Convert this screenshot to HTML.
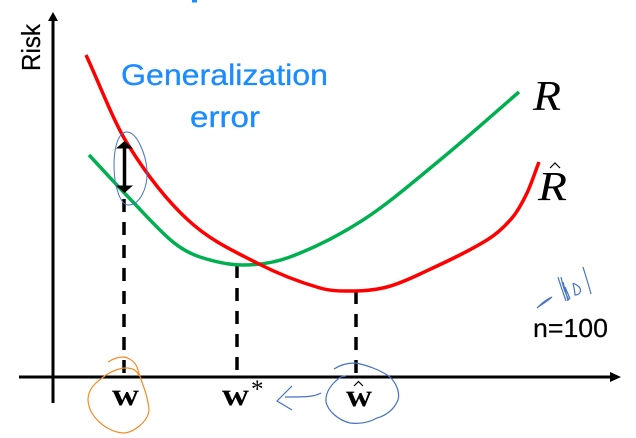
<!DOCTYPE html>
<html>
<head>
<meta charset="utf-8">
<style>
html,body{margin:0;padding:0;background:#fff;}
svg{display:block;}
</style>
</head>
<body>
<svg id="chart" width="636" height="438" viewBox="0 0 636 438" xmlns="http://www.w3.org/2000/svg">
  <rect x="192" y="0" width="5" height="2.5" fill="#1a8cff"/>

  <g id="axes">
    <line x1="53" y1="403" x2="53" y2="20" stroke="#000" stroke-width="3"/>
    <polygon points="53,12 48,21 58,21" fill="#000"/>
    <line x1="19" y1="377" x2="612" y2="377" stroke="#000" stroke-width="3"/>
    <polygon points="621,377 610,372 610,382" fill="#000"/>
  </g>

  <g id="dropGroup"></g>
  <g id="seriesGroup"></g>

  <text transform="translate(40,71) rotate(-90)" font-family="Liberation Sans, sans-serif" font-size="26" textLength="47" lengthAdjust="spacingAndGlyphs" fill="#000" stroke="#000" stroke-width="0.2">Risk</text>

  <text x="121" y="85" font-family="Liberation Sans, sans-serif" font-size="30" textLength="207" lengthAdjust="spacingAndGlyphs" fill="#1a8cff" stroke="#1a8cff" stroke-width="0.3">Generalization</text>
  <text x="190" y="127" font-family="Liberation Sans, sans-serif" font-size="30" textLength="70" lengthAdjust="spacingAndGlyphs" fill="#1a8cff" stroke="#1a8cff" stroke-width="0.3">error</text>

  <text x="533" y="110" font-family="Liberation Serif, serif" font-style="italic" font-size="42" textLength="28" lengthAdjust="spacingAndGlyphs" fill="#000">R</text>
  <text x="538" y="200" font-family="Liberation Serif, serif" font-style="italic" font-size="41" textLength="29" lengthAdjust="spacingAndGlyphs" fill="#000">R</text>
  <path d="M550 168 L555 163 L560 168" fill="none" stroke="#000" stroke-width="1.200"/>

  <g>
    <line x1="124.500" y1="146" x2="124.500" y2="188" stroke="#000" stroke-width="3.500"/>
    <polygon points="124.500,141 116,148.500 133,148.500" fill="#000"/>
    <polygon points="124.500,193 116,185.500 133,185.500" fill="#000"/>
  </g>

  <path d="M127 132 C118 132 114 148 114 165 C114 188 121 205 128 205 C140 205 148 188 147 170 C146 155 137 132 127 132 Z" fill="none" stroke="#4472c4" stroke-width="1"/>

  <path d="M108 362 C114 358 120 357 124 357 C131 358 136 363 138 370 C141 381 148 395 149 410 C148 422 133 433 123 433 C108 432 89 418 88 400 C88 386 100 380 106 375 C112 371 120 368 126 368 C132 368 137 370 139 376" fill="none" stroke="#f28c28" stroke-width="1.200"/>

  <path d="M334 369 C340 365 347 363 355 363 C368 365 382 371 390 377 C397 384 400 393 398 400 C394 410 385 416 377 418 C368 423 358 424 350 423 C338 420 328 411 326 402 C325 392 332 384 337 380 C340 377 342 376 346 376" fill="none" stroke="#4472c4" stroke-width="1.200"/>

  <path d="M321 393 C314 397 305 397 285 397 M292 386 L277 401 L292 410" fill="none" stroke="#4472c4" stroke-width="1.200"/>

  <text x="112" y="405" font-family="Liberation Serif, serif" font-weight="bold" font-size="32" textLength="27" lengthAdjust="spacingAndGlyphs" fill="#000">w</text>
  <text x="222" y="405" font-family="Liberation Serif, serif" font-weight="bold" font-size="32" textLength="27" lengthAdjust="spacingAndGlyphs" fill="#000">w</text>
  <text x="251" y="397" font-family="Liberation Serif, serif" font-size="25" fill="#000">*</text>
  <text x="346" y="406" font-family="Liberation Serif, serif" font-weight="bold" font-size="32" textLength="26" lengthAdjust="spacingAndGlyphs" fill="#000">w</text>
  <path d="M354 386 L358.500 381.500 L363 386" fill="none" stroke="#000" stroke-width="1.200"/>

  <text x="533" y="337" font-family="Liberation Sans, sans-serif" font-size="26" textLength="75" lengthAdjust="spacingAndGlyphs" fill="#000" stroke="#000" stroke-width="0.2">n=100</text>
  <path d="M537 308 C542 304 548 301 552 297 C547 299 542 303 538 307 M558 277 C561 287 564 295 566 301 M561 277 C563 287 566 295 569 300 M563 282 C565 290 567 296 568 301 M565 287 C567 292 569 296 570 299 M573 283 C574 288 575 292 575 295 C581 295 582 289 578 286 C576 284 574 284 573 283 M583 267 C586 277 589 286 591 294" fill="none" stroke="#4472c4" stroke-width="1.200"/>

  <script>
    // Risk values. x = distance along the parameter axis, y = risk above the axis.
    var redParams = [33, 74, 135, 204, 267, 302, 334, 367, 434, 459, 474, 486];
    var redRisk = [322, 234, 157, 114, 89, 86, 90, 103, 137, 159, 184, 215];
    var greenParams = [36, 80, 120, 147, 190, 237, 310, 387, 466];
    var greenRisk = [222, 175, 135, 120, 112, 120, 157, 217, 285];
    var dropParams = [71, 184, 303];
    var dropRisk = [178, 112, 86];

    var originX = 53;
    var originY = 377;
    function xScale(v) { return originX + v; }
    function yScale(v) { return originY - v; }

    // Hermite spline with slopes from neighbouring points, safe for unevenly spaced values.
    function smoothPath(xs, ys) {
      var n = xs.length;
      var slope = xs.map(function (x, i) {
        var a = Math.max(i - 1, 0);
        var b = Math.min(i + 1, n - 1);
        return (ys[b] - ys[a]) / (xs[b] - xs[a]);
      });
      var d = 'M' + xScale(xs[0]) + ' ' + yScale(ys[0]);
      for (var i = 0; i < n - 1; i++) {
        var h = (xs[i + 1] - xs[i]) / 3;
        d += ' C' + xScale(xs[i] + h) + ' ' + yScale(ys[i] + slope[i] * h) +
             ' ' + xScale(xs[i + 1] - h) + ' ' + yScale(ys[i + 1] - slope[i + 1] * h) +
             ' ' + xScale(xs[i + 1]) + ' ' + yScale(ys[i + 1]);
      }
      return d;
    }

    var svgNS = 'http://www.w3.org/2000/svg';
    var seriesGroup = document.getElementById('seriesGroup');
    var dropGroup = document.getElementById('dropGroup');

    var greenLine = document.createElementNS(svgNS, 'path');
    
    
    greenLine.setAttribute('d', smoothPath(greenParams, greenRisk));
    greenLine.setAttribute('fill', 'none');
    greenLine.setAttribute('stroke', '#00b050');
    greenLine.setAttribute('stroke-width', '3.5');
    seriesGroup.appendChild(greenLine);

    var redLine = document.createElementNS(svgNS, 'path');
    
    
    redLine.setAttribute('d', smoothPath(redParams, redRisk));
    redLine.setAttribute('fill', 'none');
    redLine.setAttribute('stroke', '#ff0000');
    redLine.setAttribute('stroke-width', '3.5');
    seriesGroup.appendChild(redLine);

    dropParams.forEach(function (v, i) {
      var drop = document.createElementNS(svgNS, 'line');
      
      
      drop.setAttribute('x1', xScale(v));
      drop.setAttribute('x2', xScale(v));
      drop.setAttribute('y1', yScale(dropRisk[i]));
      drop.setAttribute('y2', yScale(3));
      drop.setAttribute('stroke', '#000');
      drop.setAttribute('stroke-width', '3.5');
      drop.setAttribute('stroke-dasharray', '13 10');
      dropGroup.appendChild(drop);
    });
  </script>
</svg>
</body>
</html>
